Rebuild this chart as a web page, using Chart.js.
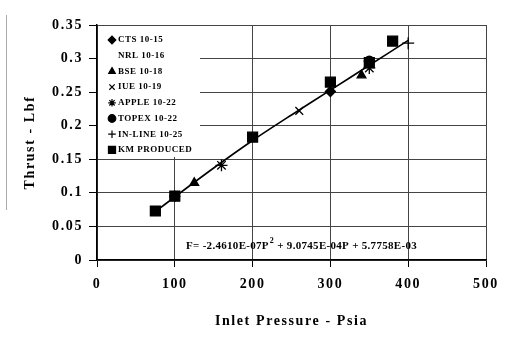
<!DOCTYPE html>
<html><head><meta charset="utf-8">
<script src="https://cdn.jsdelivr.net/npm/chart.js@4/dist/chart.umd.min.js"></script>
<style>html,body{margin:0;padding:0;background:#fff;}canvas{display:block;}</style>
</head><body>
<canvas id="c" width="516" height="341"></canvas>
<script>
// ---- data ----
const seriesNames = ['CTS 10-15','NRL 10-16','BSE 10-18','IUE 10-19','APPLE 10-22','TOPEX 10-22','IN-LINE 10-25','KM PRODUCED'];
const ctsP = [100, 300];          const ctsF = [0.095, 0.251];
const nrlP = [];                  const nrlF = [];
const bseP = [125, 340];          const bseF = [0.115, 0.275];
const iueP = [260];               const iueF = [0.222];
const appleP = [160, 350];        const appleF = [0.141, 0.286];
const topexP = [350];             const topexF = [0.296];
const inlineP = [400];            const inlineF = [0.323];
const kmP = [75, 100, 200, 300, 350, 380];
const kmF = [0.073, 0.095, 0.183, 0.265, 0.294, 0.326];
const fitP = [75, 100, 150, 200, 250, 300, 350, 400];
const fitF = [0.072, 0.094, 0.137, 0.178, 0.216, 0.253, 0.290, 0.327];
const xTickLabels = ['0','100','200','300','400','500'];
const yTickLabels = ['0','0.05','0.1','0.15','0.2','0.25','0.3','0.35'];
const equationText = ['F= -2.4610E-07P', '2', ' + 9.0745E-04P + 5.7758E-03'];
const xTitle = 'Inlet Pressure - Psia';
const yTitle = 'Thrust - Lbf';

const pts = (xs, ys) => xs.map((x, i) => ({x, y: ys[i]}));
const FONT = '"Liberation Serif", "Times New Roman", serif';

const styles = [
  {pointStyle:'rectRot', r:5},
  {pointStyle:false, r:0},
  {pointStyle:'triangle', r:5},
  {pointStyle:'crossRot', r:5.5},
  {pointStyle:'star', r:6},
  {pointStyle:'circle', r:5},
  {pointStyle:'cross', r:6},
  {pointStyle:'rect', r:7}
];
const seriesData = [pts(ctsP,ctsF), pts(nrlP,nrlF), pts(bseP,bseF), pts(iueP,iueF), pts(appleP,appleF), pts(topexP,topexF), pts(inlineP,inlineF), pts(kmP,kmF)];

const datasets = seriesNames.map((name, i) => ({
  label: name,
  data: seriesData[i],
  showLine: false,
  pointStyle: styles[i].pointStyle,
  pointRadius: styles[i].r,
  backgroundColor: '#000',
  borderColor: '#000',
  borderWidth: 1.3,
  order: 1
}));
datasets.push({
  label: 'fit',
  data: pts(fitP, fitF),
  showLine: true,
  pointRadius: 0,
  borderColor: '#000',
  borderWidth: 1.6,
  tension: 0.3,
  fill: false,
  order: 2
});

const spacingPlugin = {
  id: 'spacing',
  beforeDraw(chart) { chart.ctx.letterSpacing = '1.6px'; }
};

const extrasPlugin = {
  id: 'extras',
  afterDraw(chart) {
    const ctx = chart.ctx;
    const ca = chart.chartArea;
    ctx.save();
    // scan edge line
    ctx.strokeStyle = '#aaa'; ctx.lineWidth = 1;
    ctx.beginPath(); ctx.moveTo(6.5, 15); ctx.lineTo(6.5, 210); ctx.stroke();
    // legend box (white, covers grid)
    ctx.fillStyle = '#fff';
    ctx.fillRect(ca.left + 1, ca.top + 1, 102, 131);
    ctx.letterSpacing = '0.5px';
    ctx.font = 'bold 9px ' + FONT;
    ctx.textBaseline = 'middle';
    ctx.textAlign = 'left';
    seriesNames.forEach((name, i) => {
      const y = 40 + i * 15.7;
      const st = styles[i];
      if (st.pointStyle) {
        ctx.fillStyle = '#000'; ctx.strokeStyle = '#000'; ctx.lineWidth = 1.2;
        Chart.helpers.drawPoint(ctx, {pointStyle: st.pointStyle, radius: st.pointStyle === 'rect' ? 5 : 3.8, rotation: 0, borderWidth: 1.2}, 112, y);
      }
      ctx.fillStyle = '#000';
      ctx.fillText(name, 118, y);
    });
    // equation
    ctx.letterSpacing = '0.3px';
    ctx.font = 'bold 11px ' + FONT;
    ctx.textBaseline = 'alphabetic';
    let x = 186; const by = 249;
    ctx.fillText(equationText[0], x, by); x += ctx.measureText(equationText[0]).width;
    ctx.font = 'bold 8px ' + FONT;
    ctx.fillText(equationText[1], x + 1, by - 6); x += ctx.measureText(equationText[1]).width + 1;
    ctx.font = 'bold 11px ' + FONT;
    ctx.fillText(equationText[2], x, by);
    ctx.restore();
  }
};

Chart.defaults.font.family = FONT;
Chart.defaults.font.weight = 'bold';
Chart.defaults.color = '#000';

new Chart(document.getElementById('c'), {
  type: 'scatter',
  data: { datasets },
  options: {
    responsive: false,
    animation: false,
    devicePixelRatio: 1,
    layout: { padding: { top: 25, right: 30, left: 0, bottom: 0 } },
    plugins: { legend: { display: false }, tooltip: { enabled: false } },
    scales: {
      x: {
        type: 'linear', min: 0, max: 500,
        afterFit(s) { s.height = 81; },
        ticks: { stepSize: 100, padding: 9, font: { size: 14, weight: 'bold' }, color: '#000',
          callback: (v) => xTickLabels[Math.round(v / 100)] },
        grid: { color: '#444', lineWidth: 1, tickLength: 7, tickColor: '#000' },
        border: { color: '#000', width: 1.5 },
        title: { display: true, text: xTitle, font: { size: 14, weight: 'bold' }, color: '#000', padding: { top: 0, bottom: 11 } }
      },
      y: {
        type: 'linear', min: 0, max: 0.35,
        afterFit(s) { s.width = 97; },
        ticks: { stepSize: 0.05, padding: 6, font: { size: 14, weight: 'bold' }, color: '#000',
          callback: (v) => yTickLabels[Math.round(v / 0.05)] },
        grid: { color: '#444', lineWidth: 1, tickLength: 8, tickColor: '#000' },
        border: { color: '#000', width: 1.5 },
        title: { display: true, text: yTitle, font: { size: 14, weight: 'bold' }, color: '#000', padding: { top: 22, bottom: 0 } }
      }
    }
  },
  plugins: [spacingPlugin, extrasPlugin]
});
</script>
</body></html>
